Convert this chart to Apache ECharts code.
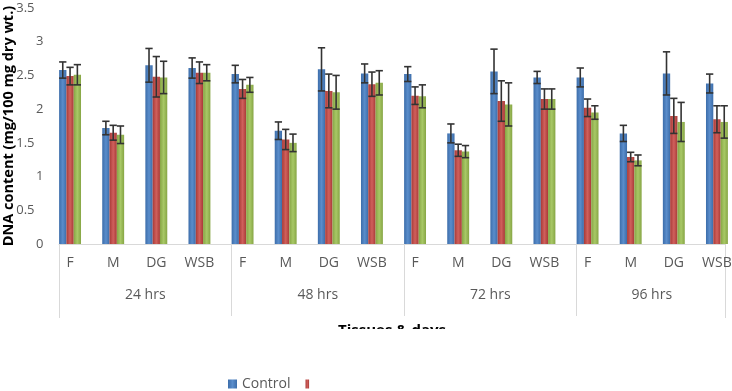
<!DOCTYPE html>
<html><head><meta charset="utf-8">
<script src="https://cdn.jsdelivr.net/npm/echarts@6/dist/echarts.min.js"></script>
<style>html,body{margin:0;padding:0;background:#fff}#c{width:732px;height:391px}</style>
</head><body><div id="c"></div>
<script>
const tissues = ['F','M','DG','WSB','F','M','DG','WSB','F','M','DG','WSB','F','M','DG','WSB'];
const groups = ['24 hrs','48 hrs','72 hrs','96 hrs'];
const control = [2.58,1.72,2.65,2.61, 2.52,1.68,2.59,2.53, 2.52,1.64,2.56,2.47, 2.47,1.64,2.53,2.38];
const controlErr = [0.12,0.10,0.25,0.15, 0.13,0.13,0.32,0.14, 0.11,0.14,0.33,0.09, 0.14,0.12,0.32,0.14];
const redVals = [2.49,1.65,2.48,2.54, 2.30,1.55,2.27,2.37, 2.20,1.39,2.12,2.15, 2.02,1.29,1.90,1.85];
const redErr = [0.13,0.11,0.30,0.16, 0.14,0.15,0.25,0.18, 0.13,0.09,0.30,0.15, 0.13,0.07,0.26,0.20];
const greenVals = [2.51,1.62,2.47,2.54, 2.36,1.50,2.25,2.39, 2.19,1.37,2.07,2.15, 1.95,1.24,1.81,1.81];
const greenErr = [0.15,0.13,0.24,0.12, 0.11,0.13,0.25,0.18, 0.17,0.09,0.32,0.15, 0.10,0.08,0.29,0.24];
const yTicks = [0,0.5,1,1.5,2,2.5,3,3.5];
const seriesNames = ['Control','\u00a0','\u00a0\u00a0'];
const xTitle = 'Tissues & days';
const yTitle = 'DNA content (mg/100 mg dry wt.)';

const FONT = "'Open Sans', sans-serif";
const BW = 7.3;
function grad(dark, light){
  return {type:'linear',x:0,y:0,x2:1,y2:0,colorStops:[{offset:0,color:dark},{offset:0.5,color:light},{offset:1,color:dark}]};
}
const colors = [grad('#3C6DAA','#5A8DCB'), grad('#A83A37','#D0605C'), grad('#86A544','#A8C866')];
const solid = ['#4F81BD','#C0504D','#9BBB59'];
const vals = [control, redVals, greenVals];
const errs = [controlErr, redErr, greenErr];

const series = [];
vals.forEach((v,k)=>{
  series.push({type:'bar', name:seriesNames[k], xAxisIndex:0, yAxisIndex:0, data:v,
    barWidth:BW, barGap:'0%', itemStyle:{color:colors[k]}, color:solid[k]});
});
vals.forEach((v,k)=>{
  series.push({type:'custom', name:seriesNames[k], xAxisIndex:0, yAxisIndex:0, z:5,
    data: v.map((y,i)=>[i,y,errs[k][i]]),
    renderItem:function(params, api){
      const i = api.value(0), y = api.value(1), e = api.value(2);
      const top = api.coord([i, y+e]);
      const bot = api.coord([i, y-e]);
      const x = top[0] + (k-1)*BW;
      const hw = BW/2;
      const st = {stroke:'#333', lineWidth:1.6};
      return {type:'group', children:[
        {type:'line', shape:{x1:x,y1:top[1],x2:x,y2:bot[1]}, style:st},
        {type:'line', shape:{x1:x-hw,y1:top[1],x2:x+hw,y2:top[1]}, style:st},
        {type:'line', shape:{x1:x-hw,y1:bot[1],x2:x+hw,y2:bot[1]}, style:st}
      ]};
    }
  });
});

const chart = echarts.init(document.getElementById('c'));
chart.setOption({
  animation:false,
  backgroundColor:'#fff',
  grid:[
    {left:48.5, right:-6.5, top:8, bottom:147, containLabel:false, outerBoundsMode:'none'},
    {left:59, right:-17, top:8, bottom:147, containLabel:false, outerBoundsMode:'none'},
    {left:59, right:7, top:8, bottom:147, containLabel:false, outerBoundsMode:'none'}
  ],
  legend:{
    left:228, top:377, padding:0, itemWidth:9, itemHeight:9, itemGap:15,
    textStyle:{fontFamily:FONT, fontSize:14, color:'#595959'},
    data:[{name:'Control', icon:'rect'}, {name:'\u00a0', icon:'path://M0,0h4v10h-4z'}]
  },
  xAxis:[
    {type:'category', gridIndex:0, data:tissues, axisLine:{show:false}, axisTick:{show:false},
     axisLabel:{margin:12, fontFamily:FONT, fontSize:14, color:'#595959', interval:0}},
    {type:'category', gridIndex:1, data:groups, axisLine:{show:false},
     axisTick:{show:true, length:72, lineStyle:{color:'#D9D9D9'}},
     axisLabel:{margin:44, fontFamily:FONT, fontSize:14, color:'#595959', interval:0,
       formatter:function(v,i){return i===3 ? '{s|'+v+'}' : v;},
       rich:{s:{fontFamily:FONT, fontSize:14, color:'#595959', padding:[0,22,0,0]}}}},
    {type:'category', gridIndex:2, data:[''], axisLine:{show:true, lineStyle:{color:'#D9D9D9'}},
     axisTick:{show:true, length:74, lineStyle:{color:'#D9D9D9'}}, axisLabel:{show:false}}
  ],
  yAxis:[
    {type:'value', gridIndex:0, min:0, max:3.5, interval:0.5, splitLine:{show:false},
     axisLine:{show:false}, axisTick:{show:false},
     axisLabel:{margin:5, fontFamily:FONT, fontSize:13, color:'#595959',
       formatter:function(v){return Number.isInteger(v) ? String(v) : '{d|'+v+'}';},
       rich:{d:{fontFamily:FONT, fontSize:13, color:'#595959', padding:[0,9,0,0]}}},
     name:yTitle, nameLocation:'middle', nameGap:32, nameMoveOverlap:false,
     nameTextStyle:{fontFamily:FONT, fontSize:14.5, fontWeight:'bold', color:'#000'}},
    {type:'value', gridIndex:1, min:0, max:3.5, show:false},
    {type:'value', gridIndex:2, min:0, max:3.5, show:false}
  ],
  graphic:[
    {type:'text', z:50, x:392, y:323, style:{text:xTitle, fontFamily:FONT, fontSize:15, fontWeight:'bold', fill:'#000', align:'center', verticalAlign:'top'}},
    {type:'rect', z:100, shape:{x:300, y:329, width:200, height:20}, style:{fill:'#fff'}}
  ],
  series: series
});
</script></body></html>
